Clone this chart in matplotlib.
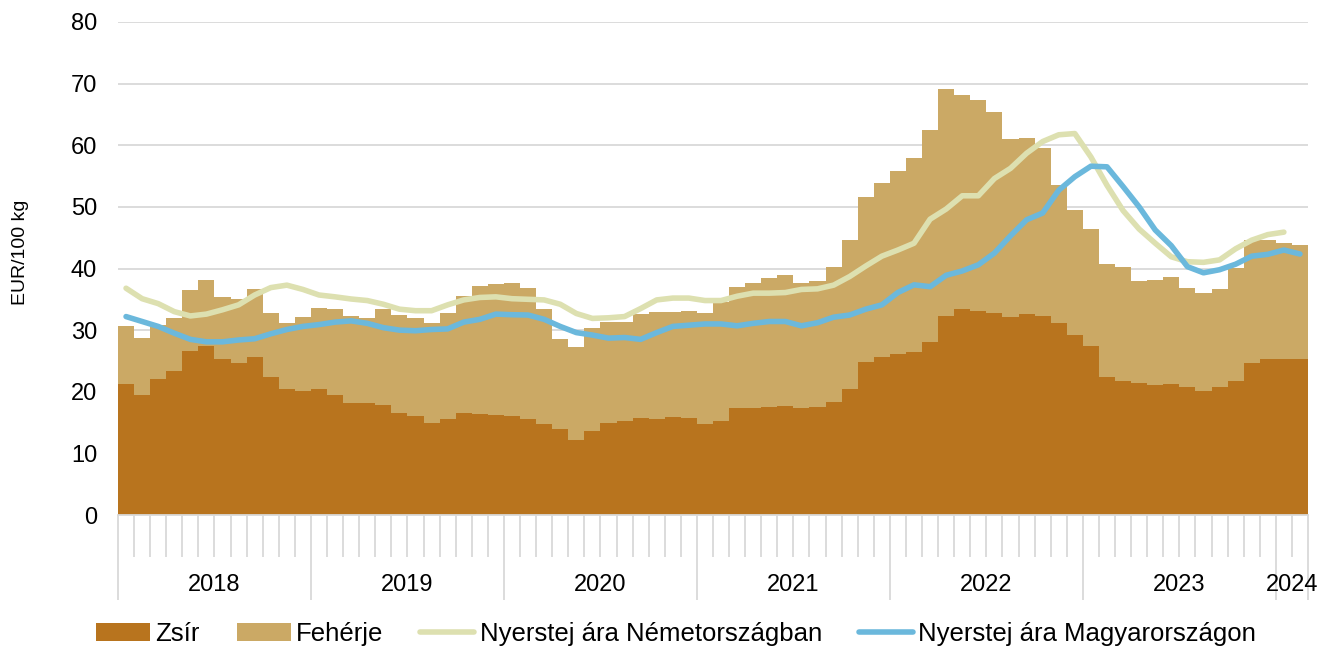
import matplotlib
matplotlib.use("Agg")
import matplotlib.pyplot as plt
import numpy as np
from matplotlib.patches import Patch
from matplotlib.lines import Line2D
from matplotlib.transforms import blended_transform_factory

plt.rcParams['font.family'] = ['Liberation Sans', 'DejaVu Sans']

# ---- data (monthly, Jan 2018 - Feb 2024) ----
years = ["2018", "2019", "2020", "2021", "2022", "2023", "2024"]
months_per_year = [12, 12, 12, 12, 12, 12, 2]

zsir = [21.3, 19.5, 22.0, 23.4, 26.6, 27.5, 25.3, 24.6, 25.6, 22.4, 20.4, 20.2,
        20.4, 19.5, 18.2, 18.1, 17.85, 16.6, 16.0, 15.0, 15.6, 16.6, 16.4, 16.2,
        16.1, 15.6, 14.7, 13.9, 12.1, 13.7, 15.0, 15.3, 15.7, 15.6, 15.95, 15.8,
        14.7, 15.3, 17.4, 17.4, 17.5, 17.7, 17.4, 17.6, 18.4, 20.4, 24.9, 25.6,
        26.2, 26.45, 28.0, 32.3, 33.5, 33.05, 32.7, 32.2, 32.6, 32.3, 31.1, 29.2,
        27.5, 22.4, 21.7, 21.4, 21.1, 21.2, 20.7, 20.2, 20.7, 21.8, 24.6, 25.3,
        25.3, 25.3]

feherje = [9.3, 9.3, 8.8, 8.5, 9.9, 10.7, 10.0, 10.5, 11.0, 10.4, 10.7, 11.9,
           13.2, 14.0, 14.1, 13.9, 15.55, 15.8, 15.9, 16.2, 17.2, 19.0, 20.8, 21.3,
           21.5, 21.3, 18.8, 14.6, 15.2, 16.6, 16.3, 16.0, 16.9, 17.3, 17.05, 17.3,
           18.0, 19.2, 19.65, 20.2, 20.9, 21.2, 20.3, 20.3, 21.9, 24.3, 26.7, 28.2,
           29.7, 31.45, 34.5, 36.8, 34.7, 34.35, 32.7, 28.8, 28.6, 27.25, 22.4, 20.3,
           18.9, 18.3, 18.5, 16.6, 17.0, 17.4, 16.2, 15.8, 16.0, 18.2, 20.0, 19.3,
           18.9, 18.5]

nemet = [36.8, 35.1, 34.3, 33.0, 32.3, 32.6, 33.3, 34.1, 35.7, 36.9, 37.3, 36.6,
         35.7, 35.4, 35.05, 34.8, 34.2, 33.4, 33.15, 33.15, 34.1, 34.9, 35.3, 35.4,
         35.1, 35.0, 34.9, 34.2, 32.7, 31.9, 32.0, 32.2, 33.5, 34.9, 35.2, 35.2,
         34.8, 34.8, 35.5, 36.0, 36.0, 36.1, 36.6, 36.7, 37.3, 38.7, 40.4, 42.0,
         43.0, 44.1, 48.0, 49.65, 51.8, 51.8, 54.6, 56.25, 58.7, 60.6, 61.7, 61.9,
         58.1, 53.5, 49.4, 46.4, 44.1, 41.9, 41.1, 41.0, 41.4, 43.2, 44.6, 45.5,
         45.9]

magyar = [32.2, 31.4, 30.6, 29.5, 28.5, 28.1, 28.1, 28.4, 28.6, 29.4, 30.1, 30.6,
          30.9, 31.3, 31.5, 31.1, 30.4, 30.0, 29.9, 30.1, 30.2, 31.3, 31.75, 32.6,
          32.5, 32.45, 31.75, 30.6, 29.6, 29.2, 28.7, 28.8, 28.5, 29.6, 30.6, 30.8,
          31.0, 31.0, 30.7, 31.1, 31.4, 31.4, 30.7, 31.2, 32.1, 32.45, 33.4, 34.1,
          36.1, 37.35, 37.05, 38.9, 39.6, 40.6, 42.5, 45.3, 47.9, 49.0, 52.7, 54.9,
          56.6, 56.5, 53.3, 50.0, 46.25, 43.7, 40.3, 39.3, 39.8, 40.7, 42.0, 42.3,
          43.0, 42.35]

labels = ["Zsír", "Fehérje", "Nyerstej ára Németországban", "Nyerstej ára Magyarországon"]

# ---- style ----
c_zsir = "#b8741e"
c_feh = "#cba965"
c_nem = "#dde0b0"
c_mag = "#6bb8dc"
c_grid = "#d9d9d9"

W, H = 1336, 650
fig = plt.figure(figsize=(W / 100, H / 100), dpi=100)
left, right, bottom, top = 118, 1308, 515, 22
ax = fig.add_axes([left / W, 1 - bottom / H, (right - left) / W, (bottom - top) / H])

n = len(zsir)
x = np.arange(n) + 0.5
ax.bar(x, zsir, width=1.0, color=c_zsir, linewidth=0, zorder=2)
ax.bar(x, feherje, width=1.0, bottom=zsir, color=c_feh, linewidth=0, zorder=2)
ax.plot(x[:len(nemet)], nemet, color=c_nem, lw=4.0, solid_capstyle='round', zorder=3)
ax.plot(x[:len(magyar)], magyar, color=c_mag, lw=4.0, solid_capstyle='round', zorder=4)

ax.set_xlim(0, n)
ax.set_ylim(0, 80)
ax.set_yticks(np.arange(0, 81, 10))
ax.tick_params(axis='y', length=0, pad=15, labelsize=17)
ax.yaxis.grid(True, color=c_grid, lw=1.3, zorder=0)
ax.set_axisbelow(True)
for s in ['left', 'right', 'top']:
    ax.spines[s].set_visible(False)
ax.spines['bottom'].set_color(c_grid)
ax.spines['bottom'].set_linewidth(1.3)
ax.spines['bottom'].set_zorder(5)

# x ticks: month separators (minor) and year separators (major)
bounds = np.concatenate([[0], np.cumsum(months_per_year)])
ax.set_xticks(bounds)
ax.set_xticklabels([])
ax.set_xticks(np.arange(0, n + 1), minor=True)
ax.tick_params(axis='x', which='major', length=61, width=1.3, color=c_grid)
ax.tick_params(axis='x', which='minor', length=30, width=1.3, color=c_grid)

trans = blended_transform_factory(ax.transData, ax.transAxes)
ylab_pos = -(585 - bottom) / (bottom - top)
for yr, a, b in zip(years, bounds[:-1], bounds[1:]):
    ax.text((a + b) / 2, ylab_pos, yr, transform=trans, ha='center', va='center', fontsize=17)

ax.set_ylabel("EUR/100 kg", fontsize=14)
ax.yaxis.set_label_coords(-(118 - 21) / (right - left), (bottom - 252) / (bottom - top))
ax.yaxis.label.set_va('center')

handles = [Patch(facecolor=c_zsir, edgecolor='none'),
           Patch(facecolor=c_feh, edgecolor='none'),
           Line2D([0], [0], color=c_nem, lw=4.0, solid_capstyle='round'),
           Line2D([0], [0], color=c_mag, lw=4.0, solid_capstyle='round')]
fig.legend(handles, labels, loc='center', bbox_to_anchor=(676 / W, 1 - 634 / H),
           ncol=4, frameon=False, fontsize=18.5, handlelength=2.1, handleheight=0.7,
           handletextpad=0.2, columnspacing=1.45, borderpad=0)

fig.savefig("out.png", dpi=100)
